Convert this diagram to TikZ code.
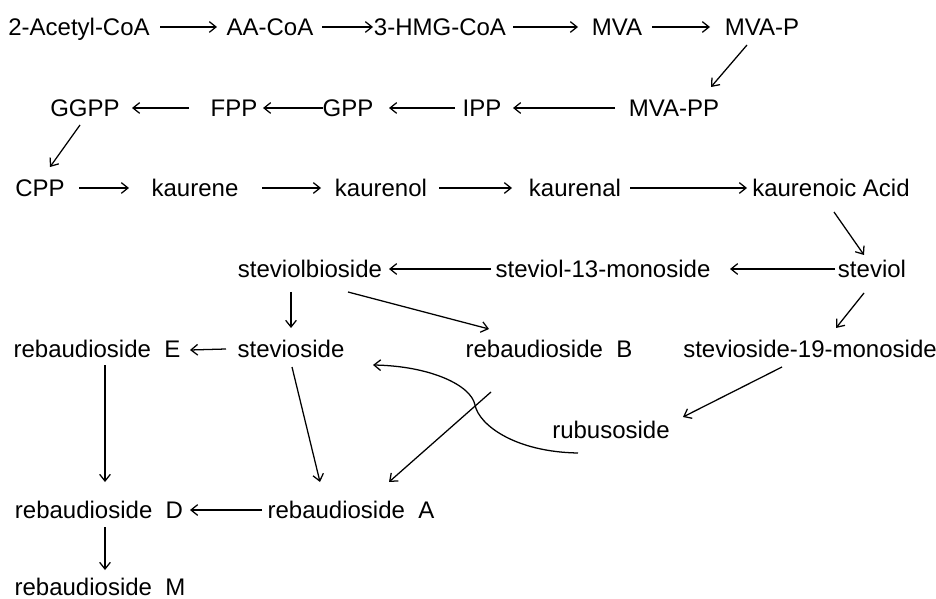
\documentclass[tikz,border=0pt]{standalone}
\usepackage{fontspec}
\setmainfont{Liberation Sans}
\usetikzlibrary{arrows.meta}
\begin{document}
\begin{tikzpicture}[x=0.75pt,y=-0.75pt,
  lbl/.style={inner sep=0pt,font=\fontsize{18pt}{21pt}\selectfont,text height=12.9pt,text depth=0pt},
  arr/.style={line width=0.95pt,-{Straight Barb[length=5pt,width=8pt]}},
  ln/.style={line width=0.95pt}]
\useasboundingbox (0,0) rectangle (936,599);
\node[lbl] (n1) at (79,27) {2-Acetyl-CoA};
\node[lbl] (n2) at (270,27) {AA-CoA};
\node[lbl] (n3) at (440,27) {3-HMG-CoA};
\node[lbl] (n4) at (617,27) {MVA};
\node[lbl] (n5) at (762,27) {MVA-P};
\node[lbl] (n6) at (674,108) {MVA-PP};
\node[lbl] (n7) at (482,108) {IPP};
\node[lbl] (n8) at (348,108) {GPP};
\node[lbl] (n9) at (234,108) {FPP};
\node[lbl] (n10) at (85,108) {GGPP};
\node[lbl] (n11) at (40,188) {CPP};
\node[lbl] (n12) at (195,188) {kaurene};
\node[lbl] (n13) at (381,188) {kaurenol};
\node[lbl] (n14) at (575,188) {kaurenal};
\node[lbl] (n15) at (831,188) {kaurenoic Acid};
\node[lbl] (n16) at (872,269) {steviol};
\node[lbl] (n17) at (603,269) {steviol-13-monoside};
\node[lbl] (n18) at (310,269) {steviolbioside};
\node[lbl] (n19) at (291,349) {stevioside};
\node[lbl] (n20) at (97,349) {rebaudioside\ \ E};
\node[lbl] (n21) at (549,349) {rebaudioside\ \ B};
\node[lbl] (n22) at (810,349) {stevioside-19-monoside};
\node[lbl] (n23) at (611,430) {rubusoside};
\node[lbl] (n24) at (351,510) {rebaudioside\ \ A};
\node[lbl] (n25) at (99,510) {rebaudioside\ \ D};
\node[lbl] (n26) at (100,587) {rebaudioside\ \ M};
\coordinate (bend) at (475,405);
% row 1
\draw[arr] ([shift={(81,0)}]n1.center) -- ([shift={(-53,0)}]n2.center);
\draw[arr] ([shift={(52,0)}]n2.center) -- ([shift={(-67,0)}]n3.center);
\draw[arr] ([shift={(73,0)}]n3.center) -- ([shift={(-39,0)}]n4.center);
\draw[arr] ([shift={(35,0)}]n4.center) -- ([shift={(-52,0)}]n5.center);
\draw[arr] ([shift={(-15,18)}]n5.center) -- ([shift={(37,-21)}]n6.center);
% row 2
\draw[arr] ([shift={(-59,0)}]n6.center) -- ([shift={(31,0)}]n7.center);
\draw[arr] ([shift={(-27,0)}]n7.center) -- ([shift={(41,0)}]n8.center);
\draw[arr] ([shift={(-25,0)}]n8.center) -- ([shift={(29,0)}]n9.center);
\draw[arr] ([shift={(-45,0)}]n9.center) -- ([shift={(47,0)}]n10.center);
\draw[arr] ([shift={(-5,17)}]n10.center) -- ([shift={(10,-21)}]n11.center);
% row 3
\draw[arr] ([shift={(39,0)}]n11.center) -- ([shift={(-66,0)}]n12.center);
\draw[arr] ([shift={(67,0)}]n12.center) -- ([shift={(-60,0)}]n13.center);
\draw[arr] ([shift={(58,0)}]n13.center) -- ([shift={(-63,0)}]n14.center);
\draw[arr] ([shift={(55,0)}]n14.center) -- ([shift={(-84,0)}]n15.center);
\draw[arr] ([shift={(3,24)}]n15.center) -- ([shift={(-8,-14)}]n16.center);
% row 4
\draw[arr] ([shift={(-37,0)}]n16.center) -- ([shift={(127,0)}]n17.center);
\draw[arr] ([shift={(-112,0)}]n17.center) -- ([shift={(79,0)}]n18.center);
\draw[arr] ([shift={(-19,23)}]n18.center) -- ([shift={(0,-21)}]n19.center);
\draw[arr] ([shift={(38,23)}]n18.center) -- ([shift={(-60,-20)}]n21.center);
\draw[arr] ([shift={(-8,24)}]n16.center) -- ([shift={(26,-21)}]n22.center);
% row 5
\draw[arr] ([shift={(-65,0)}]n19.center) -- ([shift={(93,1)}]n20.center);
\draw[arr] ([shift={(-28,18)}]n22.center) -- ([shift={(72,-13)}]n23.center);
\draw[arr] ([shift={(-33,23)}]n23.center) .. controls (515,452) and (479,425) .. (bend)
  .. controls (471,385) and (430,366) .. ([shift={(82,16)}]n19.center);
\draw[arr] ([shift={(-58,43)}]n21.center) -- ([shift={(38,-28)}]n24.center);
\draw[arr] ([shift={(1,18)}]n19.center) -- ([shift={(-31,-28)}]n24.center);
\draw[arr] ([shift={(8,16)}]n20.center) -- ([shift={(6,-28)}]n25.center);
% row 7
\draw[arr] ([shift={(-89,0)}]n24.center) -- ([shift={(91,0)}]n25.center);
\draw[arr] ([shift={(6,17)}]n25.center) -- ([shift={(5,-17)}]n26.center);
\end{tikzpicture}
\end{document}
